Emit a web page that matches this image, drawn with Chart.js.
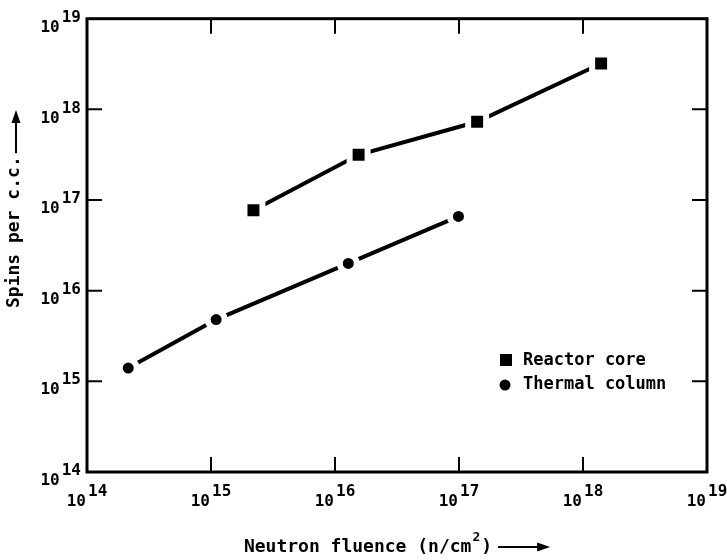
<!DOCTYPE html>
<html>
<head>
<meta charset="utf-8">
<script src="https://cdn.jsdelivr.net/npm/chart.js@4.4.1/dist/chart.umd.min.js"></script>
<style>
  html, body { margin: 0; padding: 0; background: #fff; }
  #wrap { width: 727px; height: 560px; }
</style>
</head>
<body>
<div id="wrap"><canvas id="chart" width="727" height="560"></canvas></div>
<script>
// ======= Values =======
const reactorX = [2.2e15, 1.55e16, 1.4e17, 1.4e18];
const reactorY = [7.7e16, 3.15e17, 7.3e17, 3.2e18];
const thermalX = [2.15e14, 1.1e15, 1.28e16, 9.9e16];
const thermalY = [1.4e15, 4.8e15, 2.0e16, 6.6e16];
const seriesNames = ["Reactor core", "Thermal column"];
const tickExponents = [14, 15, 16, 17, 18, 19];
const xTitle = "Neutron fluence (n/cm";
const yTitle = "Spins per c.c.";

const FONT = '"DejaVu Sans Mono", "Liberation Mono", monospace';

// horizontal arrow in current coords
function arrowH(ctx, x1, x2, y) {
  ctx.lineWidth = 2;
  ctx.beginPath();
  ctx.moveTo(x1, y);
  ctx.lineTo(x2 - 8, y);
  ctx.stroke();
  ctx.beginPath();
  ctx.moveTo(x2, y);
  ctx.lineTo(x2 - 13, y - 4.5);
  ctx.lineTo(x2 - 13, y + 4.5);
  ctx.closePath();
  ctx.fill();
}

// box, inward ticks, 10^n labels, titles and the in-plot legend
const decorations = {
  id: "decorations",
  afterDraw(chart) {
    const ctx = chart.ctx;
    const a = chart.chartArea;
    const xs = chart.scales.x, ys = chart.scales.y;
    ctx.save();
    ctx.strokeStyle = "#000";
    ctx.fillStyle = "#000";

    ctx.lineWidth = 3;
    ctx.strokeRect(a.left, a.top, a.right - a.left, a.bottom - a.top);

    ctx.lineWidth = 2;
    tickExponents.slice(1, -1).forEach(e => {
      const px = xs.getPixelForValue(10 ** e);
      const py = ys.getPixelForValue(10 ** e);
      ctx.beginPath();
      ctx.moveTo(px, a.bottom); ctx.lineTo(px, a.bottom - 15);
      ctx.moveTo(px, a.top); ctx.lineTo(px, a.top + 15);
      ctx.moveTo(a.left, py); ctx.lineTo(a.left + 15, py);
      ctx.moveTo(a.right, py); ctx.lineTo(a.right - 15, py);
      ctx.stroke();
    });

    ctx.font = "bold 16px " + FONT;
    ctx.textBaseline = "middle";
    tickExponents.forEach(e => {
      const s = String(e);
      const px = xs.getPixelForValue(10 ** e);
      ctx.textAlign = "right";
      ctx.fillText("10", px - 1, a.bottom + 30);
      ctx.textAlign = "left";
      ctx.fillText(s, px + 1, a.bottom + 20);

      const py = ys.getPixelForValue(10 ** e);
      ctx.textAlign = "right";
      ctx.fillText(s, a.left - 6, py - 1);
      const w = ctx.measureText(s).width;
      ctx.fillText("10", a.left - 8 - w, py + 9);
    });

    // x title, centred under the plot together with its arrow
    ctx.textAlign = "left";
    ctx.font = "bold 18px " + FONT;
    const w1 = ctx.measureText(xTitle).width;
    const w3 = ctx.measureText(")").width;
    ctx.font = "bold 13px " + FONT;
    const w2 = ctx.measureText("2").width;
    const total = w1 + w2 + 2 + w3 + 58;
    let tx = (a.left + a.right) / 2 - total / 2;
    const ty = 547;
    ctx.font = "bold 18px " + FONT;
    ctx.fillText(xTitle, tx, ty);
    tx += w1;
    ctx.font = "bold 13px " + FONT;
    ctx.fillText("2", tx + 1, ty - 9);
    tx += w2 + 2;
    ctx.font = "bold 18px " + FONT;
    ctx.fillText(")", tx, ty);
    tx += w3;
    arrowH(ctx, tx + 6, tx + 58, ty);

    // y title, reading upwards
    ctx.save();
    ctx.translate(14, 308);
    ctx.rotate(-Math.PI / 2);
    ctx.fillText(yTitle, 0, 0);
    const yw = ctx.measureText(yTitle).width;
    arrowH(ctx, yw + 3, 198, 2);
    ctx.restore();

    // legend
    ctx.font = "bold 17px " + FONT;
    ctx.fillRect(500, 354, 12, 12);
    ctx.fillText(seriesNames[0], 523, 361);
    ctx.beginPath();
    ctx.arc(505, 385, 5.5, 0, 2 * Math.PI);
    ctx.fill();
    ctx.fillText(seriesNames[1], 523, 385);

    ctx.restore();
  }
};

const toPoints = (xs, ys) => xs.map((x, i) => ({ x: x, y: ys[i] }));

new Chart(document.getElementById("chart"), {
  type: "line",
  data: {
    datasets: [
      {
        label: seriesNames[0],
        data: toPoints(reactorX, reactorY),
        borderColor: "#000",
        backgroundColor: "#000",
        borderWidth: 4,
        pointStyle: "rect",
        pointRadius: 12.7,
        pointBorderColor: "#fff",
        pointBorderWidth: 6,
        tension: 0
      },
      {
        label: seriesNames[1],
        data: toPoints(thermalX, thermalY),
        borderColor: "#000",
        backgroundColor: "#000",
        borderWidth: 4,
        pointStyle: "circle",
        pointRadius: 8.5,
        pointBorderColor: "#fff",
        pointBorderWidth: 6,
        tension: 0
      }
    ]
  },
  options: {
    responsive: false,
    animation: false,
    layout: { padding: { top: 15, right: 20, left: 0, bottom: 0 } },
    plugins: { legend: { display: false }, tooltip: { enabled: false } },
    scales: {
      x: {
        type: "logarithmic", min: 1e14, max: 1e19,
        grid: { display: false }, border: { display: false },
        ticks: { display: false },
        afterFit(s) { s.height = 88; }
      },
      y: {
        type: "logarithmic", min: 1e14, max: 1e19,
        grid: { display: false }, border: { display: false },
        ticks: { display: false },
        afterFit(s) { s.width = 87; }
      }
    }
  },
  plugins: [decorations]
});
</script>
</body>
</html>
